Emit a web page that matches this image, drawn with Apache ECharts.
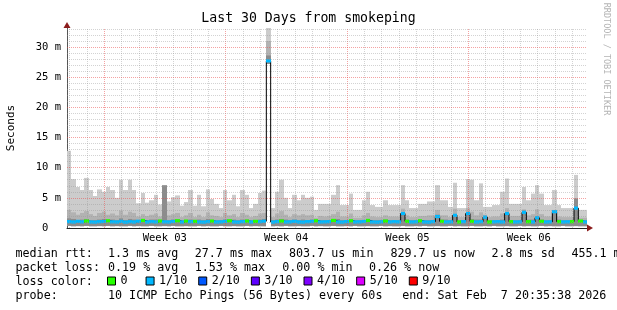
<!DOCTYPE html>
<html><head><meta charset="utf-8">
<script src="https://cdn.jsdelivr.net/npm/echarts@6/dist/echarts.min.js"></script>
<style>html,body{margin:0;padding:0;background:#fff}#c{width:617px;height:310px}</style>
</head><body><div id="c"></div>
<script>
// ---------- data ----------
const START = '2026-01-08T20:35:38Z';
const END = '2026-02-07T20:35:38Z';
const BIN_HOURS = 6;           // one value per 6 h, 120 bins over 30 days

// lowest ping of each bin (ms)
const smokeLow = [
 0.35,0.30,0.32,0.30,0.35,0.30,0.30,0.32,0.30,0.35,
 0.30,0.32,0.30,0.30,0.35,0.30,0.32,0.30,0.30,0.35,
 0.30,0.30,0.32,0.30,0.35,0.30,0.30,0.32,0.30,0.30,
 0.35,0.30,0.32,0.30,0.30,0.35,0.30,0.30,0.32,0.30,
 0.30,0.35,0.30,0.32,0.30,0.30,27.2,0.30,0.32,0.30,
 0.35,0.30,0.30,0.32,0.30,0.30,0.35,0.30,0.32,0.30,
 0.30,0.35,0.30,0.30,0.32,0.30,0.35,0.30,0.30,0.32,
 0.30,0.30,0.35,0.30,0.32,0.30,0.30,0.35,0.30,0.30,
 0.32,0.30,0.35,0.30,0.30,0.32,0.30,0.30,0.35,0.30,
 0.32,0.30,0.30,0.35,0.30,0.30,0.32,0.30,0.35,0.30,
 0.30,0.32,0.30,0.30,0.35,0.30,0.32,0.30,0.30,0.35,
 0.30,0.32,0.30,0.30,0.35,0.30,0.30,0.32,0.30,0.30];
// top of the darkest smoke band (ms)
const smokeDark = [
 1.6,1.5,1.3,1.4,1.5,1.3,1.3,1.4,1.5,1.3,
 1.4,1.3,1.6,1.3,1.5,1.4,1.3,1.4,1.3,1.4,
 1.4,1.3,7.1,1.3,1.4,1.4,1.3,1.3,1.4,1.3,
 1.4,1.3,1.5,1.3,1.3,1.3,1.4,1.3,1.4,1.3,
 1.4,1.4,1.3,1.3,1.4,1.5,28.6,1.3,1.4,1.5,
 1.4,1.3,1.4,1.3,1.4,1.3,1.4,1.3,1.3,1.3,
 1.3,1.4,1.5,1.3,1.3,1.4,1.3,1.3,1.3,1.4,
 1.3,1.3,1.3,1.4,1.3,1.3,1.3,2.6,1.4,1.3,
 1.3,1.3,1.3,1.3,1.3,2.2,1.4,1.4,1.3,2.3,
 1.3,1.3,2.6,1.5,1.4,1.4,2.0,1.3,1.3,1.3,
 1.4,2.6,1.3,1.3,1.3,2.9,1.4,1.4,1.9,1.4,
 1.3,1.3,2.9,1.4,1.3,1.3,1.3,4.9,1.3,1.3];
// top of the medium smoke band (ms)
const smokeMid = [
 3.0,2.6,2.2,2.5,2.8,2.3,2.0,2.5,2.7,2.2,
 2.4,2.1,2.9,2.2,2.7,2.5,1.9,2.3,2.0,2.2,
 2.4,1.9,2.2,2.1,2.3,2.5,1.8,2.1,2.5,1.8,
 2.2,1.8,2.6,2.1,2.0,1.8,2.5,2.1,2.3,1.8,
 2.5,2.2,1.8,2.0,2.4,2.5,31.0,1.8,2.4,2.8,
 2.2,1.8,2.3,2.1,2.3,2.1,2.2,1.7,2.0,1.9,
 2.0,2.3,2.7,1.9,1.9,2.4,1.7,1.7,2.1,2.5,
 1.9,1.8,1.8,2.1,1.9,1.9,1.9,3.2,2.1,1.8,
 1.8,2.0,2.0,2.1,2.1,3.0,2.1,2.1,1.8,3.2,
 1.8,1.8,3.3,2.7,2.1,2.6,2.2,1.8,1.9,1.9,
 2.4,3.3,2.0,2.0,2.0,3.1,2.1,2.3,3.1,2.3,
 1.9,1.9,3.0,1.9,1.8,1.8,1.8,4.2,1.7,1.7];
// highest ping of each bin (ms)
const smokeMax = [
 12.8,8.1,6.8,6.3,8.3,6.3,5.3,6.4,6.0,6.8,
 6.3,5.0,8.0,6.3,8.0,6.3,4.1,5.8,4.2,4.6,
 5.5,3.9,4.4,4.4,5.1,5.4,3.7,4.3,6.3,3.7,
 5.5,3.6,6.4,4.8,4.0,3.3,6.3,4.6,5.5,3.6,
 6.3,5.5,3.3,4.0,5.8,6.2,33.15,3.3,6.0,8.0,
 5.0,3.3,5.5,4.6,5.5,5.0,5.2,3.0,4.0,4.0,
 4.0,5.5,7.1,3.8,3.8,5.7,3.0,3.0,4.6,6.0,
 3.8,3.5,3.5,4.6,3.8,3.8,3.8,7.1,4.6,3.3,
 3.3,4.0,4.0,4.4,4.4,7.1,4.6,4.6,3.5,7.5,
 3.3,3.3,8.1,8.0,4.6,7.4,3.5,3.5,3.8,3.8,
 6.0,8.2,4.0,4.0,4.0,6.8,4.6,5.7,7.1,5.7,
 3.8,3.8,6.3,3.8,3.3,3.3,3.3,8.8,3.0,3.0];
// median rtt of each bin (ms)
const median = [
 1.05,1.00,1.10,1.02,1.15,1.00,0.98,1.05,1.08,1.20,
 1.02,1.00,1.10,0.98,1.05,1.00,1.12,1.25,1.00,1.05,
 1.00,1.15,1.02,1.00,1.08,1.20,1.00,1.15,1.05,1.10,
 1.00,0.98,1.05,1.15,1.00,1.02,1.10,1.20,1.00,0.98,
 1.05,1.15,1.00,1.10,1.05,1.12,27.7,0.98,1.05,1.15,
 1.00,1.02,1.10,1.00,0.98,1.05,1.08,1.20,1.00,1.02,
 1.05,1.25,1.00,0.98,1.05,1.20,1.00,1.02,1.08,1.25,
 1.00,0.98,1.02,1.15,1.00,1.05,1.02,2.40,1.10,1.00,
 1.02,1.20,1.00,0.98,1.05,1.90,1.10,1.00,1.02,2.10,
 1.00,1.05,2.40,1.10,1.00,1.05,1.80,1.00,1.02,1.05,
 1.00,2.40,1.05,1.00,1.02,2.60,1.05,1.00,1.70,1.10,
 1.00,1.02,2.70,1.05,1.00,1.02,1.05,3.30,1.15,1.00];
// loss level of each bin: index into lossNames
const lossLevel = [
 1,1,1,1,0,1,1,1,1,0,
 1,1,1,1,1,1,1,0,1,1,
 1,0,1,1,1,0,1,0,1,0,
 1,1,1,0,1,1,1,0,1,1,
 1,0,1,0,1,1,1,1,1,0,
 1,1,1,1,1,1,1,0,1,1,
 1,0,1,1,1,0,1,1,1,0,
 1,1,1,0,1,1,1,1,0,1,
 1,0,1,1,1,1,0,1,1,1,
 0,1,1,0,1,1,1,0,1,1,
 1,1,0,1,1,1,0,1,1,0,
 1,1,1,0,1,1,0,1,0,1];
const lossNames = ['0','1/10','2/10','3/10','4/10','5/10','9/10'];
const lossColors = ['#26ff00','#00b8ff','#0059ff','#5e00ff','#7e00ff','#dd00ff','#ff0000'];

const yTickLabels = [0,5,10,15,20,25,30];
const yMax = 33.15;
const weekStarts = ['2026-01-11','2026-01-18','2026-01-25','2026-02-01'];
const weekLabels = ['Week 03','Week 04','Week 05','Week 06'];
const weekLabelAt = ['2026-01-14T12:00:00Z','2026-01-21T12:00:00Z','2026-01-28T12:00:00Z','2026-02-04T12:00:00Z'];

const rowRtt = ['median rtt:','1.3 ms avg','27.7 ms max','803.7 us min','829.7 us now','2.8 ms sd','455.1 m'];
const rowLoss = ['packet loss:','0.19 % avg','1.53 % max','0.00 % min','0.26 % now'];
const rowColor = ['loss color:'];
const rowProbe = ['probe:','10 ICMP Echo Pings (56 Bytes) every 60s','end: Sat Feb  7 20:35:38 2026'];

// ---------- layout / style ----------
const FONT = 'DejaVu Sans Mono';
const startMs = Date.parse(START), endMs = Date.parse(END);
const binMs = BIN_HOURS * 3600e3;
const binStart = i => startMs + i * binMs;

const smokeData = smokeMax.map((v, i) => [binStart(i), binStart(i + 1), smokeLow[i], smokeDark[i], smokeMid[i], v]);
const medianLine = median.map((v, i) => [binStart(i), v]);
medianLine.push([endMs, median[median.length - 1]]);

const minorCol = 'rgba(150,150,150,0.42)';
const majorCol = 'rgba(235,70,70,0.5)';
const dash = [1, 1];

const gridMarks = [];
const dayMs = 86400e3;
const firstMidnight = Date.parse('2026-01-09T00:00:00Z');
const weekMs = weekStarts.map(d => Date.parse(d + 'T00:00:00Z'));
for (let t = firstMidnight; t < endMs; t += dayMs) {
  gridMarks.push({xAxis: t, lineStyle: {color: weekMs.includes(t) ? majorCol : minorCol, type: dash, width: 1}});
}
for (let v = 1; v <= Math.floor(yMax); v++) {
  gridMarks.push({yAxis: v, lineStyle: {color: (v % 5 === 0) ? majorCol : minorCol, type: dash, width: 1}});
}
const weekMarks = weekLabels.map((w, k) => ({xAxis: Date.parse(weekLabelAt[k]),
  label: {show: true, position: 'start', formatter: w, distance: 5, color: '#000', fontFamily: FONT, fontSize: 10.5}}));

const smokeCols = ['#cccccc', '#b2b2b2', '#8c8c8c'];
function smokeItem(params, api) {
  const x0 = api.value(0), x1 = api.value(1), lo = api.value(2);
  const tops = [api.value(5), api.value(4), api.value(3)];
  return {type: 'group', children: tops.map((t, k) => {
    const a = api.coord([x0, t]), b = api.coord([x1, lo]);
    const xa = Math.round(a[0]), xb = Math.round(b[0]);
    return {type: 'rect', shape: {x: xa, y: a[1], width: xb - xa, height: b[1] - a[1]}, style: {fill: smokeCols[k]}};
  })};
}
function bandItem(params, api) {
  const a = api.coord([api.value(0), api.value(2)]), b = api.coord([api.value(1), api.value(2)]);
  const xa = Math.round(a[0]), xb = Math.round(b[0]);
  return {type: 'rect', shape: {x: xa, y: a[1] - 1.6, width: xb - xa, height: 3.2}, style: {fill: api.visual('color')}};
}

const series = [
  {type: 'custom', name: 'smoke', z: 1, renderItem: smokeItem, data: smokeData, clip: true,
   encode: {x: [0, 1], y: [2, 5]}, silent: true},
  {type: 'line', name: 'grid', z: 2, data: [], symbol: 'none', silent: true,
   markLine: {silent: true, symbol: ['none', 'none'], label: {show: false}, animation: false, data: gridMarks},
   markPoint: {silent: true, animation: false, label: {show: false}, data: [
     {coord: [endMs, 0], symbol: 'triangle', symbolRotate: -90, symbolSize: [7, 6], symbolOffset: [3, 0], itemStyle: {color: '#8b1c1c'}},
     {coord: [startMs, yMax], symbol: 'triangle', symbolSize: [7, 6], symbolOffset: [0, -3], itemStyle: {color: '#8b1c1c'}}
   ]}},
  {type: 'line', name: 'weeks', z: 2, data: [], symbol: 'none', silent: true,
   markLine: {silent: true, symbol: ['none', 'none'], animation: false,
     lineStyle: {color: 'rgba(0,0,0,0)', width: 0},
     label: {show: true, position: 'start', distance: 5, color: '#000', fontFamily: FONT, fontSize: 10.5},
     data: weekMarks}},
  {type: 'line', name: 'median', z: 3, step: 'end', data: medianLine, symbol: 'none', silent: true,
   lineStyle: {color: '#000', width: 1}}
];
lossNames.forEach((n, k) => {
  series.push({type: 'custom', name: n, z: 4, renderItem: bandItem, clip: true, silent: true,
    itemStyle: {color: lossColors[k]},
    encode: {x: [0, 1], y: 2},
    data: median.map((v, i) => lossLevel[i] === k ? [binStart(i), binStart(i + 1), v] : null).filter(d => d)});
});

function textEl(x, y, s) {
  return {type: 'text', x: x, y: y, silent: true,
    style: {text: s, fill: '#000', font: '11.7px "' + FONT + '"', verticalAlign: 'middle', align: 'left'}};
}
const rttX = [15.5, 108, 194.7, 289, 390.4, 491.4, 571.4];
const lossX = [15.5, 108, 194.7, 282.2, 368.9];
const probeX = [15.5, 108, 402.3];
const graphics = [];
rowRtt.forEach((s, k) => graphics.push(textEl(rttX[k], 254, s)));
rowLoss.forEach((s, k) => graphics.push(textEl(lossX[k], 268, s)));
rowColor.forEach(s => graphics.push(textEl(15.5, 282, s)));
rowProbe.forEach((s, k) => graphics.push(textEl(probeX[k], 296, s)));
graphics.push({type: 'text', x: 606.5, y: 59, rotation: -Math.PI / 2, silent: true,
  style: {text: 'RRDTOOL / TOBI OETIKER', fill: '#b4b4b4', font: '8.5px "' + FONT + '"', align: 'center', verticalAlign: 'middle'}});

const chart = echarts.init(document.getElementById('c'), null, {renderer: 'canvas'});
chart.setOption({
  animation: false,
  backgroundColor: '#fff',
  title: {text: 'Last 30 Days from smokeping', left: 'center', top: 12, padding: 0,
    textStyle: {fontFamily: FONT, fontSize: 13.2, fontWeight: 'normal', color: '#000'}},
  grid: {left: 67, right: 30, top: 28, bottom: 82, containLabel: false, outerBoundsMode: 'none'},
  xAxis: {type: 'time', min: startMs, max: endMs,
    axisLine: {show: true, lineStyle: {color: '#222', width: 1}},
    axisTick: {show: false}, axisLabel: {show: false}, splitLine: {show: false}},
  yAxis: {type: 'value', min: 0, max: yMax, interval: 5,
    name: 'Seconds', nameLocation: 'middle', nameRotate: 90, nameGap: 50,
    nameTextStyle: {fontFamily: FONT, fontSize: 11, color: '#000'},
    axisLine: {show: true, lineStyle: {color: '#555', width: 1}},
    axisTick: {show: false}, splitLine: {show: false},
    axisLabel: {fontFamily: FONT, fontSize: 10.5, color: '#000', margin: 6, showMaxLabel: false,
      formatter: v => yTickLabels.includes(v) ? (v === 0 ? '0  ' : v + ' m') : ''}},
  legend: {data: lossNames, left: 107, top: 275, padding: 0, icon: 'rect', itemWidth: 8, itemHeight: 8,
    itemGap: 11, selectedMode: false,
    formatter: n => n === '0' ? '0 ' : n,
    itemStyle: {borderColor: '#000', borderWidth: 1},
    textStyle: {fontFamily: FONT, fontSize: 11.7, color: '#000'}},
  graphic: graphics,
  series: series
});
</script></body></html>
